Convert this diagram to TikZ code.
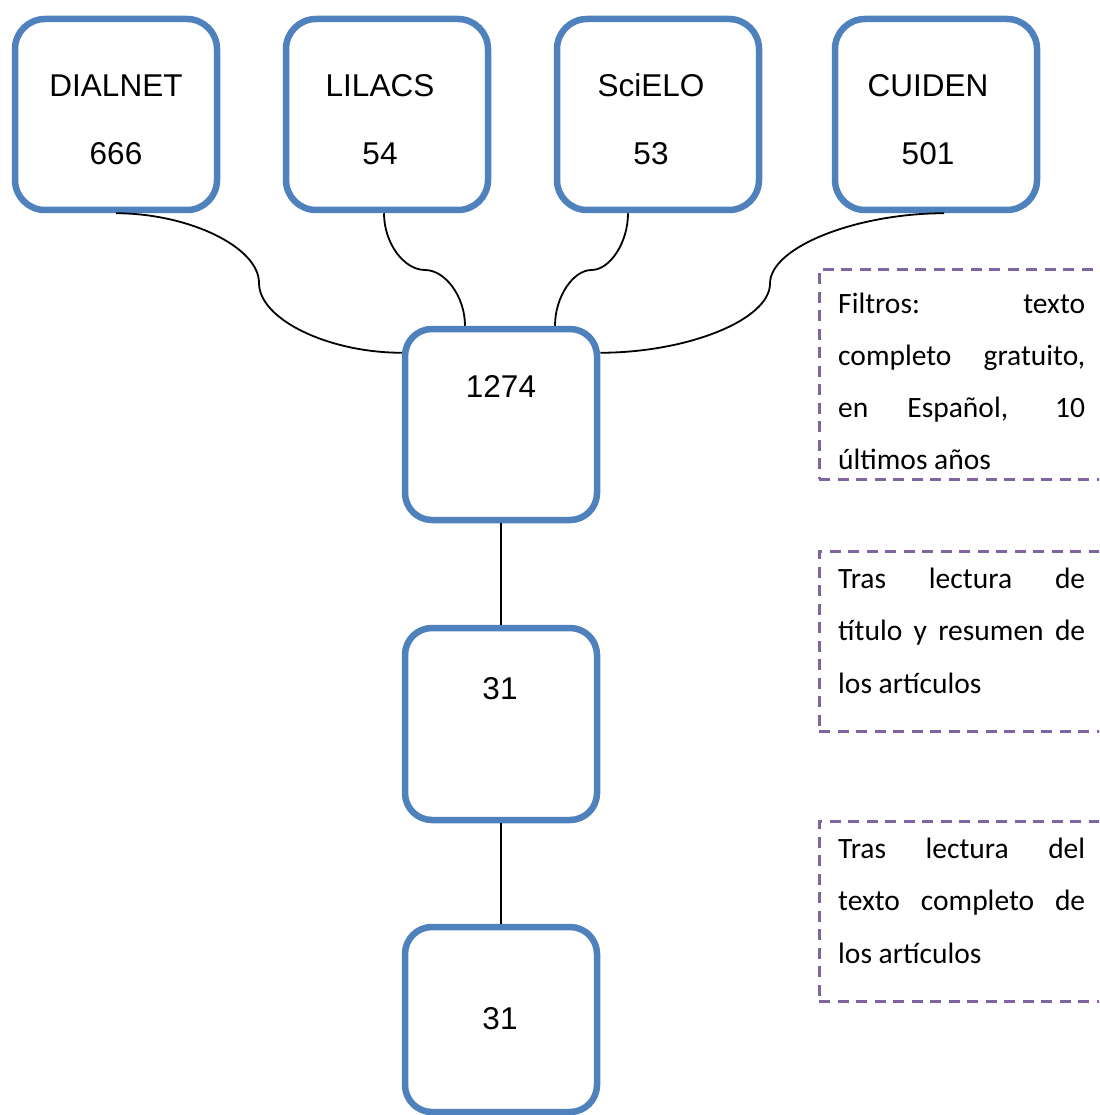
\documentclass[tikz,border=0pt]{standalone}
\usepackage{fontspec}
\usetikzlibrary{calc}
\newfontfamily\arialf{Liberation Sans}
\newfontfamily\calibf{Carlito}
\definecolor{boxblue}{HTML}{4F81BD}
\definecolor{notepurple}{HTML}{8064A2}
\hbadness=10000
\begin{document}
\begin{tikzpicture}[x=1pt,y=-1pt,
  dbbox/.style={draw=boxblue, line width=6.5pt, rounded corners=30pt, minimum width=202pt, minimum height=191pt, inner sep=0pt},
  flowbox/.style={draw=boxblue, line width=6.5pt, rounded corners=27pt, minimum width=192pt, inner sep=0pt},
  lbl/.style={font=\arialf\fontsize{31.5}{38}\selectfont, inner sep=0pt, anchor=base},
  conn/.style={draw=black, line width=1.8pt},
  notebox/.style={draw=notepurple, line width=2.5pt, dash pattern=on 11pt off 7.5pt, minimum width=300pt, inner sep=0pt, anchor=north west},
  notetext/.style={inner sep=0pt, anchor=base west, font=\calibf}]
\useasboundingbox (0,0) rectangle (1099,1115);
\clip (0,0) rectangle (1099,1115);

% database boxes
\node[dbbox] (dial) at (116,114.5) {};
\node[dbbox] (lil) at (387,114.5) {};
\node[dbbox] (sci) at (658,114.5) {};
\node[dbbox] (cui) at (936,114.5) {};
\node[lbl] (dialn) at (116,97) {DIALNET};
\node[lbl] (dialv) at (116,165) {666};
\node[lbl] (liln) at (380,97) {LILACS};
\node[lbl] (lilv) at (380,165) {54};
\node[lbl] (scin) at (651,97) {SciELO};
\node[lbl] (sciv) at (651,165) {53};
\node[lbl] (cuin) at (928,97) {CUIDEN};
\node[lbl] (cuiv) at (928,165) {501};

% flow boxes
\node[flowbox, minimum height=191pt] (tot) at (501,424.5) {};
\node[flowbox, minimum height=192pt] (sel) at (501,724) {};
\node[flowbox, minimum height=185pt] (fin) at (501,1019.5) {};
\node[lbl] (totv) at (501,397) {1274};
\node[lbl] (selv) at (500,699) {31};
\node[lbl] (finv) at (500,1029) {31};

% connection points
\coordinate (dm) at (259,283);
\coordinate (lm) at (425,270);
\coordinate (sm) at (591.5,270);
\coordinate (cm) at (770,283.5);
\coordinate (totL) at ($(tot.north west)+(0,27)$);
\coordinate (totR) at ($(tot.north east)+(0,27)$);
\coordinate (totA) at ($(tot.north)+(-36,0)$);
\coordinate (totB) at ($(tot.north)+(54,0)$);
\coordinate (lilS) at ($(lil.south)+(-3,0)$);
\coordinate (sciS) at ($(sci.south)+(-30,0)$);
\coordinate (cuiS) at ($(cui.south)+(8,0)$);

% connectors
\draw[conn] (dial.south) .. controls +(71.5,0) and +(0,-36.5) .. (dm)
            .. controls +(0,36.5) and +(-73,0) .. (totL);
\draw[conn] (lilS) .. controls +(0,30) and +(-21,0) .. (lm)
            .. controls +(20,0) and +(0,-29.5) .. (totA);
\draw[conn] (sciS) .. controls +(0,30) and +(18,0) .. (sm)
            .. controls +(-18,0) and +(0,-29.5) .. (totB);
\draw[conn] (cuiS) .. controls +(-87,0) and +(0,-36.5) .. (cm)
            .. controls +(0,36.5) and +(86.5,0) .. (totR);
\draw[conn] (tot.south) -- (sel.north);
\draw[conn] (sel.south) -- (fin.north);

% notes
\node[notebox, minimum height=210pt] (n1) at (818,268) {};
\node[notebox, minimum height=180pt] (n2) at (818,550) {};
\node[notebox, minimum height=180pt] (n3) at (818,820) {};
\node[notetext] (t1) at (838,313) {\parbox[t]{247pt}{\fontsize{29.5}{52}\selectfont Filtros: texto\linebreak completo gratuito,\linebreak en Español, 10\linebreak últimos años\par}};
\node[notetext] (t2) at (838,588) {\parbox[t]{247pt}{\fontsize{29.5}{52.5}\selectfont Tras lectura de\linebreak título y resumen de\linebreak los artículos\par}};
\node[notetext] (t3) at (838,858) {\parbox[t]{247pt}{\fontsize{29.5}{52.5}\selectfont Tras lectura del\linebreak texto completo de\linebreak los artículos\par}};
\end{tikzpicture}
\end{document}
